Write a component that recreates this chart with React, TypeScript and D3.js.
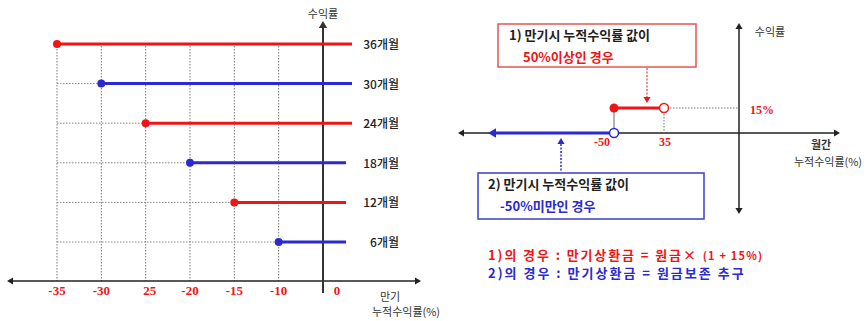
import React from "react";
import * as d3 from "d3";

// ---------- data ----------
const leftTickValues = [-35, -30, -25, -20, -15, -10, 0];
const leftTickLabels = ["-35", "-30", "25", "-20", "-15", "-10", "0"];
const periods = ["36개월", "30개월", "24개월", "18개월", "12개월", "6개월"];
const barrierValues = [-35, -30, -25, -20, -15, -10];

const rightTickValues = [-50, -30];
const rightTickLabels = ["-50", "35"];
const couponValue = 15;
const couponLabel = "15%";
const rightDomain = [-112, 40];
const blueLineEnd = -100;

const box1Lines = ["1) 만기시 누적수익률 값이", "50%이상인 경우"];
const box2Lines = ["2) 만기시 누적수익률 값이", "-50%미만인 경우"];
const noteLines = ["1)의 경우 : 만기상환금 = 원금× ", "2)의 경우 : 만기상환금 = 원금보존 추구"];
const noteTail = "(1 + 15%)";

const RED = "#f01414";
const BLUE = "#2a2ad0";
const KR = "'Noto Sans CJK KR', 'Noto Sans', sans-serif";
const NUM = "'Liberation Serif', 'DejaVu Serif', serif";

function ArrowHead({ x, y, dir, size = 5, color = "#222" }: { x: number; y: number; dir: "up" | "down" | "left" | "right"; size?: number; color?: string }) {
  const s = size;
  let d = "";
  if (dir === "up") d = `M${x},${y} L${x - s * 0.6},${y + s} L${x + s * 0.6},${y + s} Z`;
  if (dir === "down") d = `M${x},${y} L${x - s * 0.6},${y - s} L${x + s * 0.6},${y - s} Z`;
  if (dir === "left") d = `M${x},${y} L${x + s},${y - s * 0.6} L${x + s},${y + s * 0.6} Z`;
  if (dir === "right") d = `M${x},${y} L${x - s},${y - s * 0.6} L${x - s},${y + s * 0.6} Z`;
  return <path d={d} fill={color} />;
}

export default function App() {
  // ---------- left chart ----------
  const xL = d3.scalePoint<number>().domain(leftTickValues).range([57, 323]);
  const yL = d3.scalePoint<string>().domain(periods).range([44, 242]);
  const axisY = 281;
  const axisX = xL(0)!;

  // ---------- right chart ----------
  const xR = d3.scaleLinear().domain(rightDomain).range([459, 839]);
  const yR = d3.scaleLinear().domain([0, couponValue]).range([133, 108]);
  const rAxisX = xR(0);
  const rAxisY = yR(0);

  return (
    <svg width={866} height={321} style={{ position: "absolute", left: 0, top: 0, background: "#fff" }}>
      <rect x={0} y={0} width={866} height={321} fill="#fff" />

      {/* ===== LEFT CHART ===== */}
      {leftTickValues.filter((v) => v !== 0).map((v) => (
        <line key={"vg" + v} x1={xL(v)} x2={xL(v)} y1={yL(periods[0])! + 2} y2={axisY} stroke="#777" strokeWidth={1} strokeDasharray="1.5,1.5" />
      ))}
      {periods.map((p, i) => (
        <line key={"hg" + p} x1={xL(leftTickValues[0])} x2={xL(barrierValues[i])} y1={yL(p)} y2={yL(p)} stroke="#888" strokeWidth={1} strokeDasharray="1.5,1.5" />
      ))}
      <line x1={12} x2={416} y1={axisY} y2={axisY} stroke="#222" strokeWidth={1.5} />
      <ArrowHead x={7} y={axisY} dir="left" size={6} />
      <ArrowHead x={421} y={axisY} dir="right" size={6} />
      <line x1={axisX} x2={axisX} y1={27} y2={293} stroke="#333" strokeWidth={2} />
      <ArrowHead x={axisX} y={21} dir="up" size={7} color="#333" />
      <text x={axisX} y={18} textAnchor="middle" fontFamily={KR} fontSize={11} fill="#333">수익률</text>
      {periods.map((p, i) => {
        const c = i % 2 === 0 ? RED : BLUE;
        const end = i < 3 ? 352 : 346;
        return (
          <g key={"ln" + p}>
            <line x1={xL(barrierValues[i])} x2={end} y1={yL(p)} y2={yL(p)} stroke={c} strokeWidth={3} />
            <circle cx={xL(barrierValues[i])} cy={yL(p)} r={4} fill={c} />
            <text x={399} y={yL(p)! + 5} textAnchor="end" fontFamily={KR} fontSize={12} fontWeight={500} fill="#222">{p}</text>
          </g>
        );
      })}
      {leftTickValues.map((v, i) => (
        <text key={"tl" + v} x={xL(v)! + (v === 0 ? 14 : v === -25 ? 4 : 0)} y={295} textAnchor="middle" fontFamily={NUM} fontWeight="bold" fontSize={13} fill={RED}>
          {leftTickLabels[i]}
        </text>
      ))}
      <text x={390} y={301} textAnchor="middle" fontFamily={KR} fontSize={11} fill="#333">만기</text>
      <text x={406} y={316} textAnchor="middle" fontFamily={KR} fontSize={11} fill="#333">누적수익률(%)</text>

      {/* ===== RIGHT CHART ===== */}
      <line x1={464} x2={834} y1={rAxisY} y2={rAxisY} stroke="#222" strokeWidth={1.5} />
      <ArrowHead x={458} y={rAxisY} dir="left" size={6} />
      <ArrowHead x={840} y={rAxisY} dir="right" size={6} />
      <line x1={rAxisX} x2={rAxisX} y1={29} y2={208} stroke="#222" strokeWidth={1.5} />
      <ArrowHead x={rAxisX} y={23} dir="up" size={6} />
      <ArrowHead x={rAxisX} y={214} dir="down" size={6} />
      <text x={770} y={36} textAnchor="middle" fontFamily={KR} fontSize={11} fill="#333">수익률</text>
      <text x={821} y={149} textAnchor="middle" fontFamily={KR} fontSize={11} fontWeight="bold" fill="#333">월간</text>
      <text x={828} y={166} textAnchor="middle" fontFamily={KR} fontSize={11} fill="#333">누적수익률(%)</text>

      <line x1={xR(rightTickValues[1])} x2={rAxisX} y1={yR(couponValue)} y2={yR(couponValue)} stroke="#777" strokeWidth={1} strokeDasharray="1.5,1.5" />
      <line x1={xR(rightTickValues[1])} x2={xR(rightTickValues[1])} y1={yR(couponValue)} y2={rAxisY} stroke="#777" strokeWidth={1} strokeDasharray="1.5,1.5" />
      <line x1={xR(rightTickValues[0])} x2={xR(rightTickValues[0])} y1={yR(couponValue)} y2={rAxisY} stroke="#999" strokeWidth={1.5} />

      <line x1={xR(blueLineEnd) + 5} x2={xR(rightTickValues[0])} y1={rAxisY} y2={rAxisY} stroke={BLUE} strokeWidth={3} />
      <ArrowHead x={xR(blueLineEnd) - 1} y={rAxisY} dir="left" size={8} color={BLUE} />
      <circle cx={xR(rightTickValues[0])} cy={rAxisY} r={4.5} fill="#fff" stroke={BLUE} strokeWidth={1.5} />

      <line x1={xR(rightTickValues[0])} x2={xR(rightTickValues[1])} y1={yR(couponValue)} y2={yR(couponValue)} stroke={RED} strokeWidth={3} />
      <circle cx={xR(rightTickValues[0])} cy={yR(couponValue)} r={4.5} fill={RED} />
      <circle cx={xR(rightTickValues[1])} cy={yR(couponValue)} r={4.5} fill="#fff" stroke={RED} strokeWidth={1.5} />

      <text x={xR(rightTickValues[0]) - 12} y={146} textAnchor="middle" fontFamily={NUM} fontWeight="bold" fontSize={12} fill={RED}>{rightTickLabels[0]}</text>
      <text x={xR(rightTickValues[1]) + 1} y={146} textAnchor="middle" fontFamily={NUM} fontWeight="bold" fontSize={12} fill={RED}>{rightTickLabels[1]}</text>
      <text x={750} y={114} fontFamily={NUM} fontWeight="bold" fontSize={12} fill={RED}>{couponLabel}</text>

      <rect x={498} y={24} width={198} height={43} fill="#fff" stroke="#e55555" strokeWidth={1.5} />
      <text x={509} y={40} fontFamily={KR} fontSize={13} fontWeight="bold" fill="#222">{box1Lines[0]}</text>
      <text x={523} y={62} fontFamily={KR} fontSize={13} fontWeight="bold" fill={RED}>{box1Lines[1]}</text>
      <line x1={647} x2={647} y1={68} y2={97} stroke={RED} strokeWidth={1} strokeDasharray="2,1.5" />
      <ArrowHead x={647} y={103} dir="down" size={6} color={RED} />

      <rect x={478} y={173} width={226} height={46} fill="#fff" stroke="#3c3cc8" strokeWidth={1.5} />
      <text x={488} y={189} fontFamily={KR} fontSize={13} fontWeight="bold" fill="#222">{box2Lines[0]}</text>
      <text x={500} y={211} fontFamily={KR} fontSize={13} fontWeight="bold" fill={BLUE}>{box2Lines[1]}</text>
      <line x1={561} x2={561} y1={144} y2={172} stroke={BLUE} strokeWidth={1.5} strokeDasharray="2,1.5" />
      <ArrowHead x={561} y={138} dir="up" size={6} color={BLUE} />

      <text x={488} y={260} fontFamily={KR} fontSize={13} fontWeight="bold" fill={RED} letterSpacing={1.9}>
        {noteLines[0]}
        <tspan fontSize={11} letterSpacing={1.2}>{noteTail}</tspan>
      </text>
      <text x={488} y={278} fontFamily={KR} fontSize={13} fontWeight="bold" fill={BLUE} letterSpacing={2}>{noteLines[1]}</text>
    </svg>
  );
}
